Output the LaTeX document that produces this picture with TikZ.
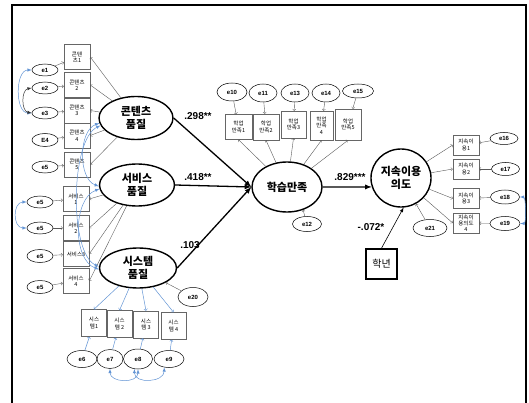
\documentclass[tikz,border=0pt]{standalone}
\usepackage{fontspec}
\setmainfont{Liberation Sans}
\newfontfamily\kr{Noto Sans CJK KR}
\usetikzlibrary{shapes.geometric}
\definecolor{covblue}{RGB}{98,148,212}
\tikzset{
  ind/.style={draw=gray!80!black, line width=0.5pt, minimum width=26pt, minimum height=25pt,
    inner sep=0.5pt, align=center, font=\kr\fontsize{5.5}{6.5}\selectfont},
  err/.style={draw, ellipse, line width=0.5pt, minimum width=28pt, minimum height=15pt,
    inner sep=0pt, font=\bfseries\fontsize{6}{7}\selectfont},
  lat/.style={draw, ellipse, line width=1.4pt, inner sep=0pt, align=center,
    font=\kr\bfseries\fontsize{11}{13}\selectfont},
  load/.style={->, line width=0.4pt, gray!70!black},
  bload/.style={->, line width=0.5pt, covblue},
  cov/.style={latex-latex, line width=0.5pt, covblue},
  reg/.style={-latex, line width=1.3pt},
  coef/.style={font=\bfseries\fontsize{10}{12}\selectfont}
}
\begin{document}
\begin{tikzpicture}[x=1pt, y=-1pt]
  \useasboundingbox (0,0) rectangle (529,403);
  % Frame (open at the bottom)
  \draw[line width=1.5pt] (12,403) -- (12,5) -- (526,5) -- (526,403);

  % Latent variables
  \node[lat, minimum width=74pt, minimum height=43pt] (cq) at (136,118) {콘텐츠\\품질};
  \node[lat, minimum width=75pt, minimum height=42pt] (sq) at (137,185) {서비스\\품질};
  \node[lat, minimum width=77pt, minimum height=40pt] (yq) at (138,268) {시스템\\품질};
  \node[lat, minimum width=70pt, minimum height=50pt] (lsat) at (287,187) {학습만족};
  \node[lat, minimum width=60pt, minimum height=58pt] (cint) at (401,178) {지속이용\\의도};
  \node[draw, line width=1.6pt, minimum width=31pt, minimum height=30pt,
    font=\kr\fontsize{10}{12}\selectfont] (gr) at (381.5,264) {학년};

  % Content quality indicators
  \node[ind] (c1) at (77,57) {콘텐\\츠1};
  \node[ind] (c2) at (77,85) {콘텐츠\\2};
  \node[ind] (c3) at (77,110.5) {콘텐츠\\3};
  \node[ind] (c4) at (77,135.5) {콘텐츠\\4};
  \node[ind] (c5) at (77,164.5) {콘텐츠\\5};
  \node[err, minimum width=26pt, minimum height=12pt] (e1) at (45,70) {e1};
  \node[err, minimum width=26pt, minimum height=12pt] (e2) at (45,88) {e2};
  \node[err, minimum width=26pt, minimum height=12pt] (e3) at (45,113) {e3};
  \node[err, minimum width=26pt, minimum height=13pt] (e4) at (45,140) {E4};
  \node[err, minimum width=26pt, minimum height=12pt] (e5) at (45,167) {e5};

  % Service quality indicators
  \node[ind] (s1) at (76,199) {서비스\\1};
  \node[ind] (s2) at (76,228) {서비스\\2};
  \node[ind] (s3) at (76,254) {서비스3};
  \node[ind] (s4) at (76,281) {서비스\\4};
  \node[err, minimum width=26pt, minimum height=12pt] (es1) at (40,202) {e5};
  \node[err, minimum width=26pt, minimum height=12pt] (es2) at (40,228) {e5};
  \node[err, minimum width=26pt, minimum height=13pt] (es3) at (40,256) {e5};
  \node[err, minimum width=26pt, minimum height=13pt] (es4) at (40,287) {e5};

  % System quality indicators
  \node[ind, minimum width=25pt, minimum height=27pt] (y1) at (94,323) {시스\\템1};
  \node[ind, minimum width=25pt, minimum height=27pt] (y2) at (119.5,324) {시스\\템 2};
  \node[ind, minimum width=25pt, minimum height=27pt] (y3) at (146,324.5) {시스\\템 3};
  \node[ind, minimum width=25pt, minimum height=27pt] (y4) at (173.5,326) {시스\\템 4};
  \node[err, minimum width=30pt, minimum height=17pt] (e6) at (82,359) {e6};
  \node[err, minimum width=26pt, minimum height=19pt] (e7) at (110,359) {e7};
  \node[err, minimum width=29pt, minimum height=20pt] (e8) at (138,359) {e8};
  \node[err, minimum width=30pt, minimum height=17pt] (e9) at (169,359) {e9};
  \node[err, minimum width=30pt, minimum height=19pt] (e20) at (193,297) {e20};

  % Learning satisfaction indicators
  \node[ind, minimum width=27pt] (l1) at (238.5,127) {학업\\만족1};
  \node[ind, minimum height=26pt] (l2) at (266,127) {학업\\만족2};
  \node[ind, minimum width=25pt, minimum height=27pt] (l3) at (293.5,124.5) {학업\\만족3};
  \node[ind, minimum width=23pt, minimum height=29pt] (l4) at (321.5,125.5) {학업\\만족\\4};
  \node[ind, minimum height=31pt] (l5) at (348,124.5) {학업\\만족5};
  \node[err, minimum width=30pt, minimum height=18pt] (e10) at (232,92) {e10};
  \node[err, minimum height=18pt] (e11) at (263,93) {e11};
  \node[err, minimum height=18pt] (e13) at (295,93) {e13};
  \node[err, minimum height=18pt] (e14) at (326,93) {e14};
  \node[err, minimum width=31pt, minimum height=14pt] (e15) at (358,91) {e15};
  \node[err, minimum width=29pt] (e12) at (307,224) {e12};

  % Continuance intention indicators
  \node[ind, minimum height=20pt] (k1) at (466,145) {지속이\\용1};
  \node[ind, minimum height=20pt] (k2) at (466,169) {지속이\\용2};
  \node[ind, minimum height=20pt] (k3) at (466,198.5) {지속이\\용3};
  \node[ind, minimum height=20pt, inner sep=0pt, font=\kr\fontsize{5.5}{6}\selectfont] (k4) at (466,223) {지속이\\용의도\\4};
  \node[err, minimum height=12pt] (e16) at (504,138.5) {e16};
  \node[err, minimum height=13pt] (e17) at (505.5,169) {e17};
  \node[err, minimum width=29pt, minimum height=14pt] (e18) at (505,197) {e18};
  \node[err, minimum width=30pt, minimum height=14pt] (e19) at (505,223.5) {e19};
  \node[err, minimum width=34pt, minimum height=17pt] (e21) at (430,228) {e21};

  % Loadings
  \draw[load] (cq) -- (c1.east);
  \draw[load] (cq) -- (c2.east);
  \draw[load] (cq) -- (c3.east);
  \draw[load] (cq) -- (c4.east);
  \draw[load] (cq) -- (c5.east);
  \draw[load] (sq) -- (s1.east);
  \draw[load] (sq) -- (s2.east);
  \draw[load] (sq) -- (s3.east);
  \draw[load] (sq) -- (s4.east);
  \draw[bload] (yq) -- (y1.north);
  \draw[bload] (yq) -- (y2.north);
  \draw[bload] (yq) -- (y3.north);
  \draw[bload] (yq) -- (y4.north);
  \draw[load] (lsat) -- (l1.south);
  \draw[load] (lsat) -- (l2.south);
  \draw[load] (lsat) -- (l3.south);
  \draw[load] (lsat) -- (l4.south);
  \draw[load] (lsat) -- (l5.south);
  \draw[load] (cint) -- (k1.west);
  \draw[load] (cint) -- (k2.west);
  \draw[load] (cint) -- (k3.west);
  \draw[load] (cint) -- (k4.west);

  % Error terms
  \draw[load] (e1) -- (c1);
  \draw[load] (e2) -- (c2);
  \draw[load] (e3) -- (c3);
  \draw[load] (e4) -- (c4);
  \draw[load] (e5) -- (c5);
  \draw[load] (es1) -- (s1);
  \draw[load] (es2) -- (s2);
  \draw[load] (es3) -- (s3);
  \draw[load] (es4) -- (s4);
  \draw[bload] (e6) -- (y1);
  \draw[bload] (e7) -- (y2);
  \draw[bload] (e8) -- (y3);
  \draw[bload] (e9) -- (y4);
  \draw[load] (e10) -- (l1);
  \draw[load] (e11) -- (l2);
  \draw[load] (e13) -- (l3);
  \draw[load] (e14) -- (l4);
  \draw[load] (e15) -- (l5);
  \draw[load] (e16) -- (k1);
  \draw[load] (e17) -- (k2);
  \draw[load] (e18) -- (k3);
  \draw[load] (e19) -- (k4);
  \draw[load] (e20) -- (yq);
  \draw[load] (e12) -- (lsat.-55);
  \draw[load] (e21) -- (cint);

  % Covariances
  \draw[cov] (e1.west) to[out=180, in=180, looseness=1.0] (e3.west);
  \draw[latex-latex, line width=0.5pt, gray!40!black] (e2.west) to[out=190, in=170, looseness=1.1] (e3.west);
  \draw[cov] (es1.west) to[out=180, in=180, looseness=1.4] (es2.west);
  \draw[cov] (e18.east) to[out=0, in=0, looseness=0.6] (e19.east);
  \draw[cov] (e7.south) to[out=-90, in=-90, looseness=1.3] (e8.south);
  \draw[cov] (e8.250) to[out=-90, in=-90, looseness=1.3] (e9.240);
  \draw[cov] (cq.188) to[out=200, in=160, looseness=0.9] (sq.182);
  \draw[cov] (cq.192) to[out=205, in=155, looseness=0.6] (yq.178);
  \draw[cov] (sq.186) to[out=200, in=160, looseness=0.9] (yq.182);

  % Structural paths
  \draw[reg] (cq.east) -- (lsat.west);
  \draw[reg] (sq.east) -- (lsat.west);
  \draw[reg] (yq.east) -- (lsat.west);
  \draw[reg] (lsat.east) -- (cint.197);
  \draw[reg, line width=0.6pt] (gr.north) -- (cint.-85);

  % Coefficients
  \node[coef] (b1) at (198,116) {.298**};
  \node[coef] (b2) at (198,177) {.418**};
  \node[coef] (b3) at (190,245) {.103};
  \node[coef] (b4) at (350,177) {.829***};
  \node[coef] (b5) at (371,227) {-.072*};
\end{tikzpicture}
\end{document}
